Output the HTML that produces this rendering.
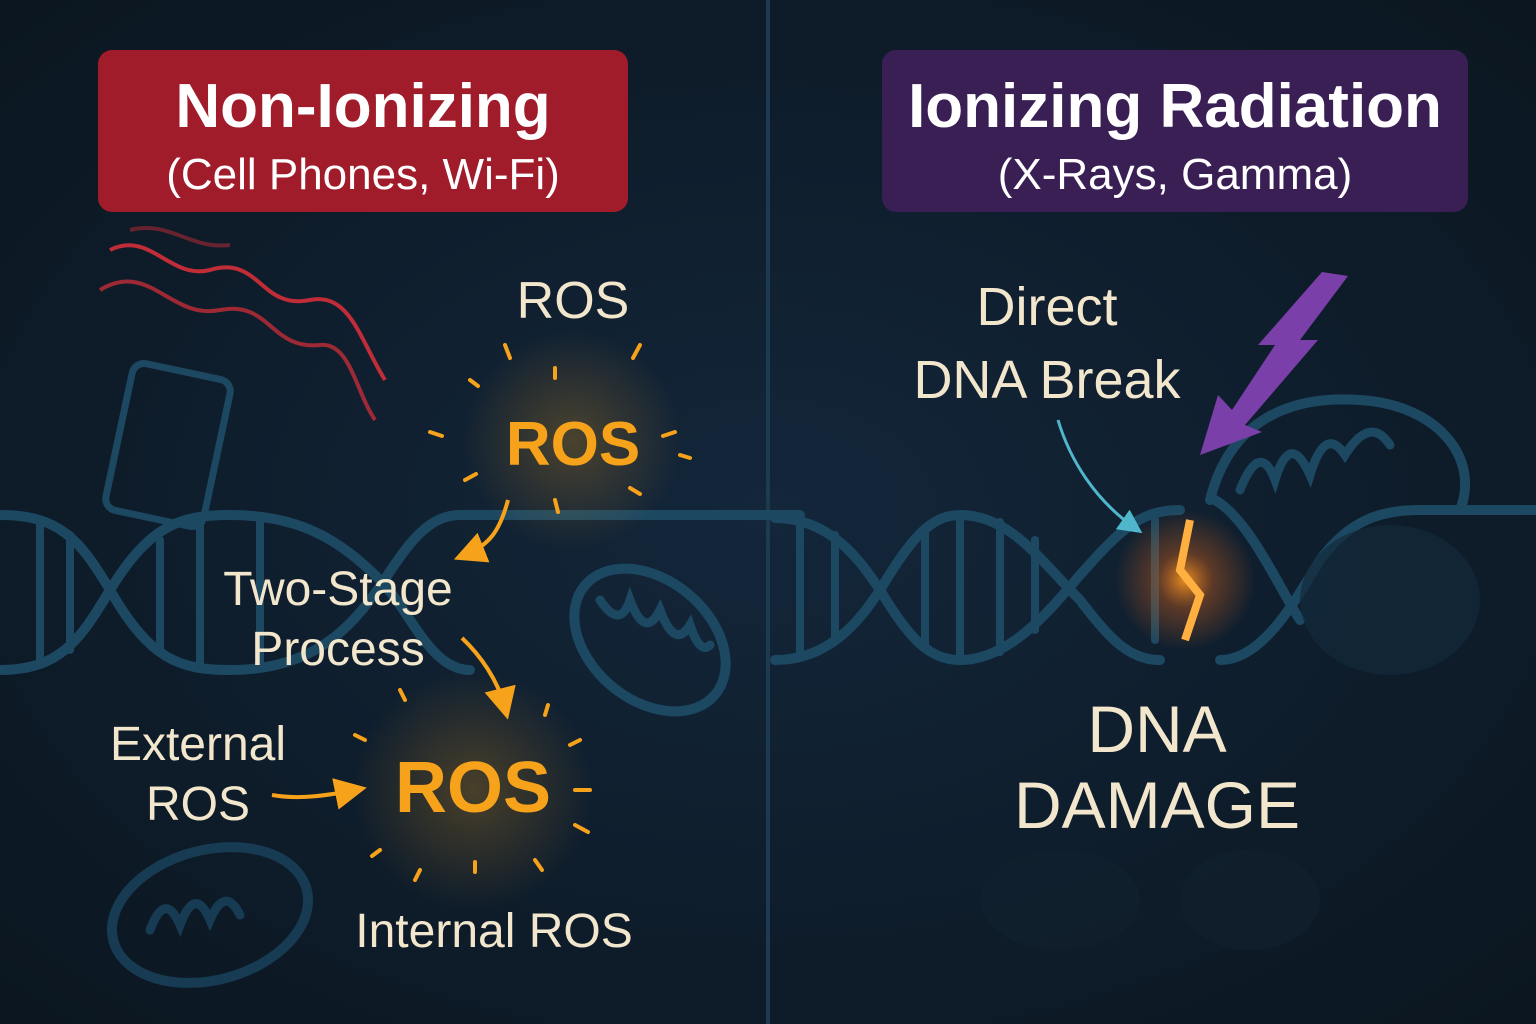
<!DOCTYPE html>
<html><head><meta charset="utf-8"><style>
html,body{margin:0;padding:0;background:#0f1c28;}
svg{display:block;}
text{font-family:"Liberation Sans","DejaVu Sans",sans-serif;}
</style></head><body>
<svg width="1536" height="1024" viewBox="0 0 1536 1024" xmlns="http://www.w3.org/2000/svg">
<defs>
<radialGradient id="bg" cx="50%" cy="50%" r="70%">
<stop offset="0" stop-color="#13263a"/><stop offset="1" stop-color="#0b1620"/>
</radialGradient>
<radialGradient id="glow" cx="50%" cy="50%" r="50%">
<stop offset="0" stop-color="#ff9a20" stop-opacity="0.9"/><stop offset="0.4" stop-color="#d0601a" stop-opacity="0.4"/><stop offset="1" stop-color="#d0601a" stop-opacity="0"/>
</radialGradient>
<radialGradient id="oglow" cx="50%" cy="50%" r="50%">
<stop offset="0" stop-color="#f7a21b" stop-opacity="0.25"/><stop offset="1" stop-color="#f7a21b" stop-opacity="0"/>
</radialGradient>
<filter id="blur"><feGaussianBlur stdDeviation="3"/></filter>
<marker id="ao" markerWidth="8" markerHeight="8" refX="5" refY="4" orient="auto"><path d="M0,0 L8,4 L0,8 Z" fill="#f7a21b"/></marker>
<marker id="ab" markerWidth="8" markerHeight="8" refX="5" refY="4" orient="auto"><path d="M0,0 L8,4 L0,8 Z" fill="#4fb6cc"/></marker>
</defs>
<rect width="1536" height="1024" fill="url(#bg)"/>
<line x1="768" y1="0" x2="768" y2="1024" stroke="#1d3a50" stroke-width="4"/>

<!-- headers -->
<rect x="98" y="50" width="530" height="162" rx="14" fill="#a01c2a"/>
<text x="363" y="127" text-anchor="middle" font-size="62" font-weight="bold" fill="#fff">Non-Ionizing</text>
<text x="363" y="189" text-anchor="middle" font-size="44" fill="#fff">(Cell Phones, Wi-Fi)</text>
<rect x="882" y="50" width="586" height="162" rx="14" fill="#3a1f55"/>
<text x="1175" y="127" text-anchor="middle" font-size="62" font-weight="bold" fill="#fff">Ionizing Radiation</text>
<text x="1175" y="189" text-anchor="middle" font-size="44" fill="#fff">(X-Rays, Gamma)</text>

<!-- left helix -->
<g stroke="#1c4862" stroke-width="10" fill="none" stroke-linecap="round">
<path d="M0,515 C60,515 80,540 110,590 C150,660 180,670 230,670 C300,670 340,640 370,600 C400,560 420,515 460,515 L800,515"/>
<path d="M0,670 C60,670 80,640 110,590 C150,525 180,515 230,515 C300,515 340,540 380,580 C410,610 430,670 470,670"/>
<g stroke-width="8">
<line x1="40" y1="520" x2="40" y2="665"/><line x1="70" y1="535" x2="70" y2="650"/>
<line x1="160" y1="540" x2="160" y2="650"/><line x1="200" y1="520" x2="200" y2="665"/>
<line x1="260" y1="520" x2="260" y2="665"/>
</g>
<rect x="118" y="370" width="100" height="150" rx="12" transform="rotate(12 168 445)" stroke-width="7"/>
<!-- mitochondria -->
<ellipse cx="650" cy="640" rx="85" ry="60" transform="rotate(40 650 640)"/>
<path d="M600,600 q20,30 30,0 q15,40 30,10 q15,40 30,15 q10,30 20,20" stroke-width="9"/>
<ellipse cx="210" cy="915" rx="100" ry="65" transform="rotate(-15 210 915)" stroke="#173b52"/>
<path d="M150,930 q15,-40 30,-5 q15,-40 30,-5 q15,-35 30,-5" stroke="#173b52" stroke-width="9"/>
</g>

<!-- red waves -->
<g stroke="#e0303a" stroke-width="4" fill="none" opacity="0.85">
<path d="M110,250 C150,230 170,280 210,270 C260,255 260,310 310,300 C350,292 360,340 385,380"/>
<path d="M100,290 C150,260 170,320 220,310 C270,300 270,350 320,345 C350,342 355,390 375,420" opacity="0.8"/>
<path d="M130,230 C170,220 190,250 230,245" opacity="0.5"/>
</g>

<!-- right helix -->
<g stroke="#1c4862" stroke-width="10" fill="none" stroke-linecap="round">
<path d="M775,518 C830,518 860,560 880,590 C910,640 930,660 960,660 C1010,660 1050,610 1080,575 C1120,530 1140,510 1180,510 M1220,660 C1260,660 1290,610 1320,560 C1350,520 1380,510 1420,510 L1536,510"/>
<path d="M775,660 C830,660 860,620 880,590 C910,540 930,515 960,515 C1010,515 1040,560 1080,600 C1110,640 1130,660 1160,660 M1215,500 C1250,520 1280,590 1300,620"/>
<g stroke-width="8">
<line x1="800" y1="522" x2="800" y2="655"/><line x1="835" y1="535" x2="835" y2="640"/>
<line x1="925" y1="530" x2="925" y2="645"/><line x1="960" y1="520" x2="960" y2="655"/>
<line x1="1000" y1="522" x2="1000" y2="652"/><line x1="1035" y1="540" x2="1035" y2="630"/>
<line x1="1155" y1="520" x2="1155" y2="640"/>
</g>
<path d="M1210,500 C1230,420 1290,395 1360,400 C1440,405 1480,460 1460,510" />
<path d="M1240,490 q20,-50 35,-10 q15,-50 35,-5 q15,-50 35,-20 q25,-40 45,-10" stroke-width="9"/>
</g>
<ellipse cx="1390" cy="600" rx="90" ry="75" fill="#122a3a" opacity="0.7"/>
<ellipse cx="1060" cy="900" rx="80" ry="50" fill="#12222f" opacity="0.6"/>
<ellipse cx="1250" cy="900" rx="70" ry="50" fill="#12222f" opacity="0.6"/>

<!-- break glow -->
<circle cx="1185" cy="580" r="70" fill="url(#glow)"/>
<path d="M1190,520 L1180,570 L1200,595 L1185,640" stroke="#ffb040" stroke-width="8" fill="none"/>

<!-- lightning -->
<path d="M1322,272 L1348,276 L1300,340 L1318,340 L1245,425 L1262,432 L1200,455 L1218,395 L1232,410 L1275,345 L1258,345 Z" fill="#7a3fa8"/>

<!-- blue arrow -->
<path d="M1058,420 C1070,460 1095,500 1135,528" stroke="#4fb6cc" stroke-width="3" fill="none" marker-end="url(#ab)"/>

<!-- ROS bursts -->
<g fill="#f7a21b">
<circle cx="572" cy="440" r="110" fill="url(#oglow)"/>
<circle cx="473" cy="790" r="120" fill="url(#oglow)"/>
</g>
<g stroke="#f7a21b" stroke-width="4" stroke-linecap="round">
<line x1="505" y1="345" x2="510" y2="358"/><line x1="640" y1="345" x2="633" y2="358"/>
<line x1="555" y1="368" x2="555" y2="378"/><line x1="470" y1="380" x2="478" y2="386"/>
<line x1="430" y1="432" x2="442" y2="436"/><line x1="675" y1="432" x2="663" y2="436"/>
<line x1="465" y1="480" x2="476" y2="474"/><line x1="680" y1="455" x2="690" y2="458"/>
<line x1="555" y1="500" x2="558" y2="512"/><line x1="630" y1="488" x2="640" y2="494"/>
<line x1="400" y1="690" x2="405" y2="700"/><line x1="548" y1="705" x2="545" y2="715"/>
<line x1="355" y1="735" x2="365" y2="740"/><line x1="580" y1="740" x2="570" y2="745"/>
<line x1="575" y1="790" x2="590" y2="790"/><line x1="380" y1="850" x2="372" y2="856"/>
<line x1="575" y1="825" x2="588" y2="832"/><line x1="475" y1="862" x2="475" y2="872"/>
<line x1="420" y1="870" x2="415" y2="880"/><line x1="535" y1="860" x2="542" y2="870"/>
</g>
<text x="573" y="465" text-anchor="middle" font-size="62" font-weight="bold" fill="#f7a21b">ROS</text>
<text x="473" y="812" text-anchor="middle" font-size="72" font-weight="bold" fill="#f7a21b">ROS</text>

<!-- orange arrows -->
<g stroke="#f7a21b" stroke-width="4" fill="none">
<path d="M508,500 C500,530 490,545 465,555" marker-end="url(#ao)"/>
<path d="M462,638 C480,655 498,680 505,708" marker-end="url(#ao)"/>
<path d="M272,795 C300,800 330,795 355,790" marker-end="url(#ao)"/>
</g>

<!-- labels -->
<g fill="#f2e6cc" text-anchor="middle">
<text x="573" y="318" font-size="52">ROS</text>
<text x="338" y="605" font-size="48">Two-Stage</text>
<text x="338" y="665" font-size="48">Process</text>
<text x="198" y="760" font-size="48">External</text>
<text x="198" y="820" font-size="48">ROS</text>
<text x="494" y="947" font-size="48">Internal ROS</text>
<text x="1047" y="325" font-size="54">Direct</text>
<text x="1047" y="398" font-size="54">DNA Break</text>
<text x="1157" y="752" font-size="66">DNA</text>
<text x="1157" y="828" font-size="66">DAMAGE</text>
</g>
</svg>
</body></html>
